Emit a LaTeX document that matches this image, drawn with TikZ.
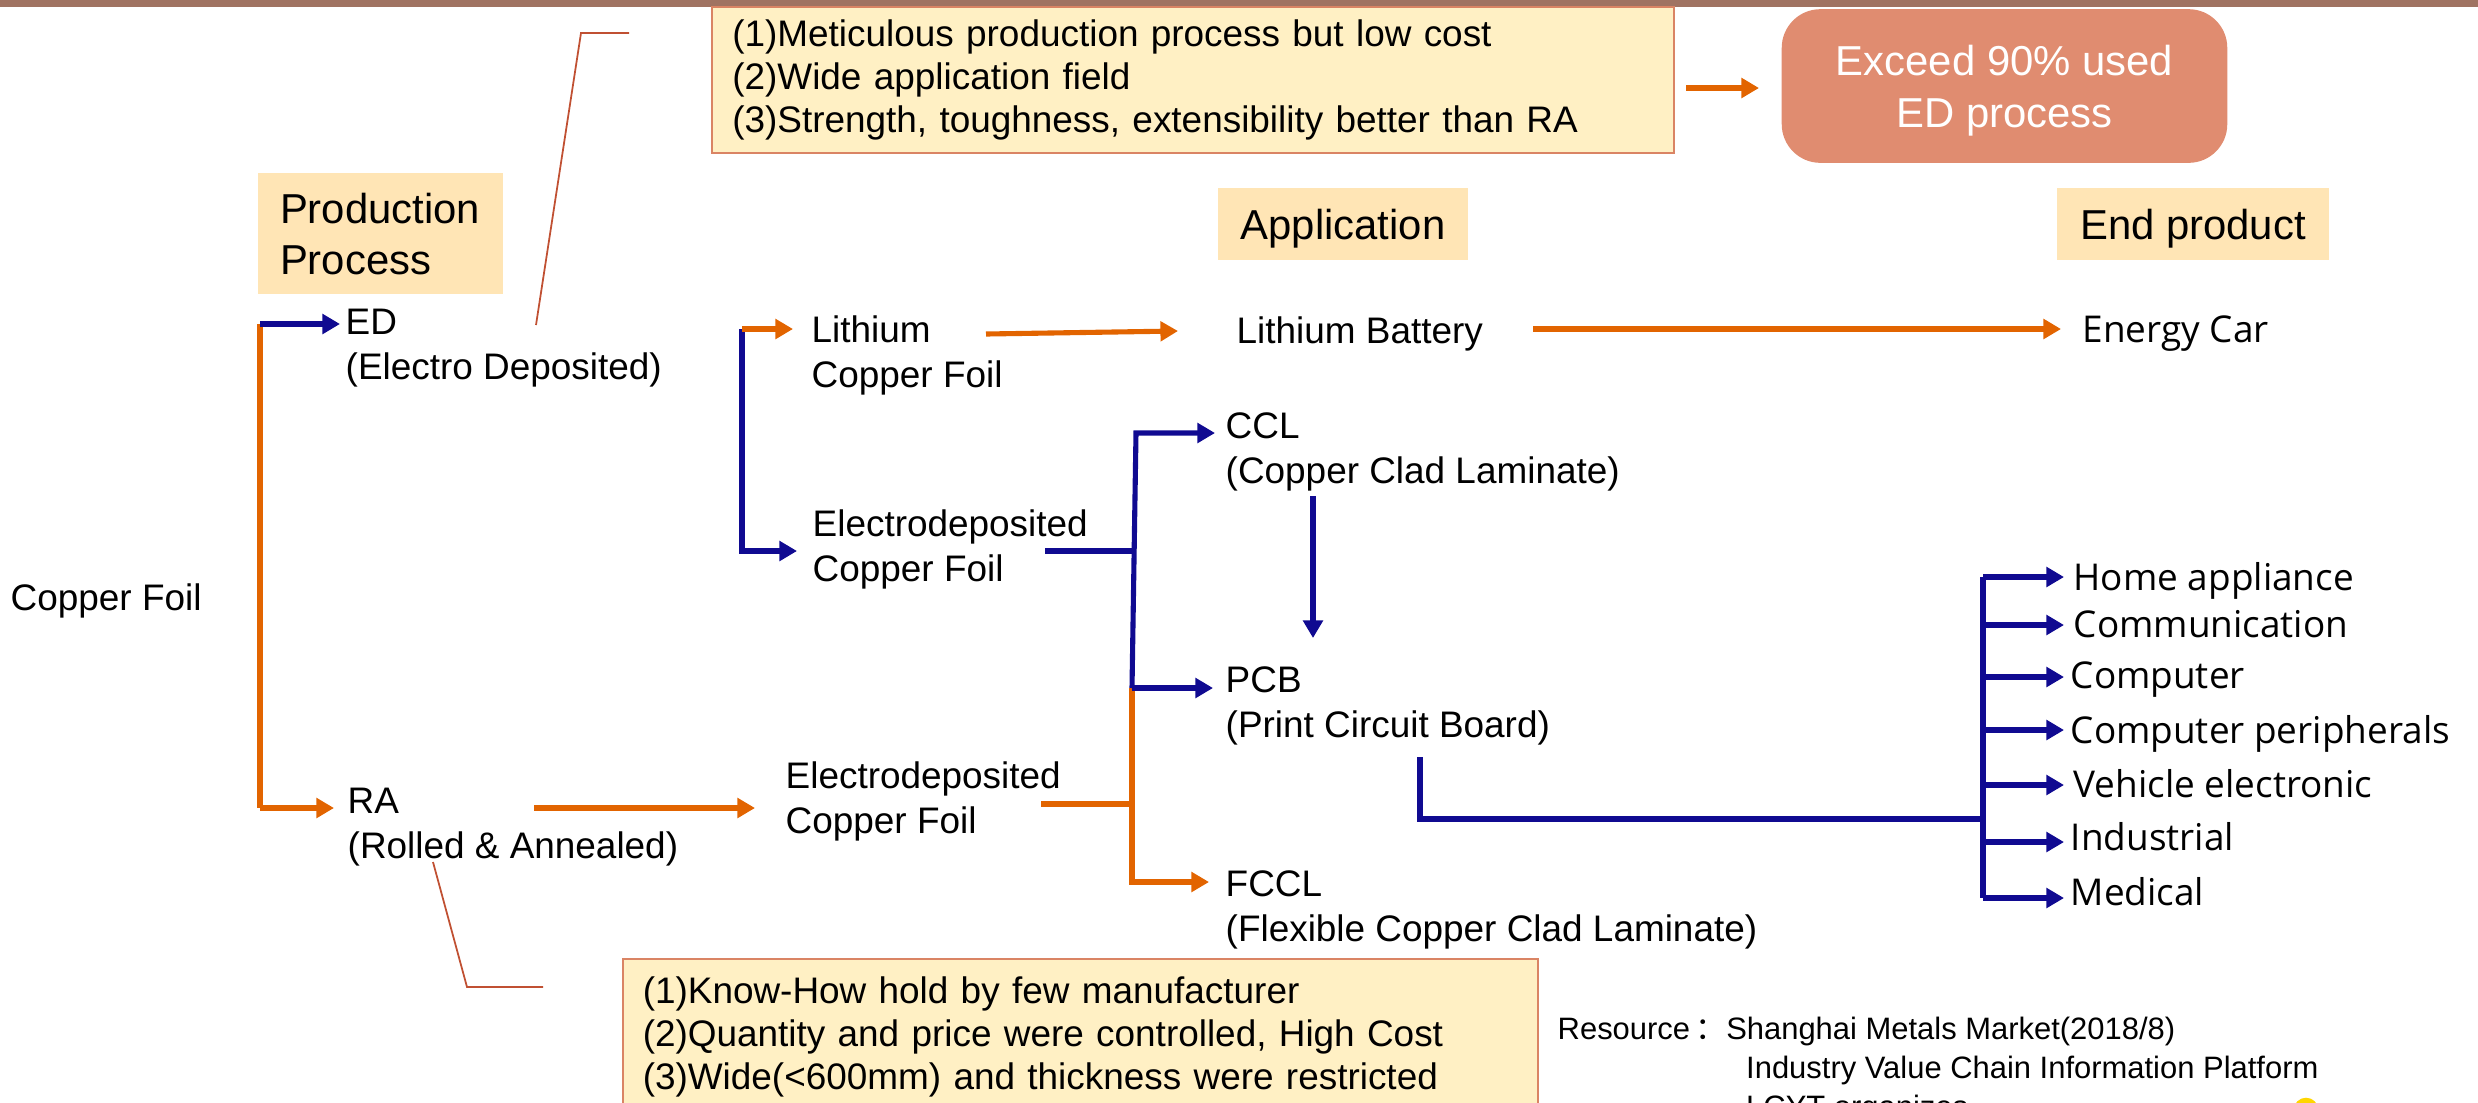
\documentclass[tikz,border=0pt]{standalone}
\usepackage{fontspec}
\setmainfont{Liberation Sans}
\newfontfamily\segoe{Open Sans}
\newfontfamily\cjk{Noto Sans CJK SC}
\usetikzlibrary{arrows.meta}
\definecolor{cuOrange}{RGB}{226,100,0}
\definecolor{cuNavy}{RGB}{16,10,145}
\definecolor{peach}{RGB}{255,229,181}
\definecolor{cream}{RGB}{255,240,196}
\definecolor{salmon}{RGB}{224,140,112}
\definecolor{barBrown}{RGB}{160,115,98}
\definecolor{leadRed}{RGB}{192,80,50}
\definecolor{boxEdge}{RGB}{218,132,100}
\definecolor{dotGold}{RGB}{255,214,0}
\tikzset{
  txt/.style={inner sep=0pt, anchor=base west, align=left, font=\fontsize{10.5}{12.7}\selectfont},
  lst/.style={inner sep=0pt, anchor=base west, font=\segoe\fontsize{10.5}{12.7}\selectfont},
  oline/.style={draw=cuOrange, line width=1.45pt},
  bline/.style={draw=cuNavy, line width=1.45pt},
  tipped/.style={-{Triangle[length=5pt,width=5.5pt]}},
  leader/.style={draw=leadRed, line width=0.5pt},
  headbox/.style={fill=peach, inner sep=0pt, font=\fontsize{11.9}{14.5}\selectfont},
  notebox/.style={fill=cream, draw=boxEdge, line width=0.6pt, inner xsep=5.6pt, inner ysep=0pt, align=left, font=\fontsize{10.5}{12.3}\selectfont},
}
\begin{document}
\begin{tikzpicture}[x=0.01cm, y=-0.01cm]
\useasboundingbox (0,0) rectangle (2478,1102);
\clip (0,0) rectangle (2478,1102);
\fill[barBrown] (0,0) rectangle (2478,7);

% ---- notes and headings ----
\node[notebox, anchor=north west, minimum width=273.5pt, minimum height=41.4pt, text width=262pt] (adv) at (711,6)
  {(1)Meticulous production process but low cost\\(2)Wide application field\\(3)Strength, toughness, extensibility better than RA};
\node[fill=salmon, rounded corners=11pt, minimum width=126.7pt, minimum height=43.7pt, inner sep=0pt,
  text=white, align=center, text depth=0pt, font=\fontsize{11.9}{14.7}\selectfont] (exceed) at (2004.5,86)
  {Exceed 90\% used\\ED process};
\node[notebox, anchor=north west, minimum width=260.2pt, minimum height=44.2pt, text width=249pt] (dis) at (622,958)
  {(1)Know-How hold by few manufacturer\\(2)Quantity and price were controlled, High Cost\\(3)Wide(<600mm) and thickness were restricted};

\node[headbox, anchor=north west, minimum width=69.7pt, minimum height=34.6pt, align=left, inner xsep=6.2pt,
  text width=57pt] (pp) at (257,172) {Production\\Process};
\node[headbox, text depth=0pt, minimum width=70.9pt, minimum height=20.4pt] (app) at (1343,224) {Application};
\node[headbox, text depth=0pt, minimum width=77.1pt, minimum height=20.4pt] (endp) at (2193,224) {End product};

% ---- text nodes (base = last line) ----
\node[txt] (cf) at (10,610) {Copper Foil};
\node[txt] (ed) at (345,379) {ED\\(Electro Deposited)};
\node[txt] (ra) at (347,858) {RA\\(Rolled \& Annealed)};
\node[txt] (lcf) at (811,387) {Lithium\\Copper Foil};
\node[txt] (edf1) at (812,581) {Electrodeposited\\Copper Foil};
\node[txt] (edf2) at (785,833) {Electrodeposited\\Copper Foil};
\node[txt] (lb) at (1236,343) {Lithium Battery};
\node[txt] (ccl) at (1225,483) {CCL\\(Copper Clad Laminate)};
\node[txt] (pcb) at (1225,737) {PCB\\(Print Circuit Board)};
\node[txt] (fccl) at (1225,941) {FCCL\\(Flexible Copper Clad Laminate)};
\node[lst] (ecar) at (2082,342) {Energy Car};
\node[lst] (home) at (2073,590) {Home appliance};
\node[lst] (comm) at (2073,637) {Communication};
\node[lst] (comp) at (2070,688) {Computer};
\node[lst] (peri) at (2070,743) {Computer peripherals};
\node[lst] (vehi) at (2073,797) {Vehicle electronic};
\node[lst] (indu) at (2070,850) {Industrial};
\node[lst] (medi) at (2070,905) {Medical};
\node[inner sep=0pt, anchor=base west, align=left, font=\fontsize{8.8}{11}\selectfont] (res) at (1557,1117)
  {Resource\,{\cjk ：}Shanghai Metals Market(2018/8)\\
   \hspace*{53.6pt}Industry Value Chain Information Platform\\
   \hspace*{53.6pt}LCYT organizes};
\node[circle, fill=dotGold, minimum size=7pt, inner sep=0pt] (dot) at (2306,1110) {};

% ---- coordinates ----
\coordinate (c1) at (260,324);
\coordinate (c2) at (260,808);
\coordinate (c1t) at (340,324);
\coordinate (c2t) at (334,808);
\coordinate (r1) at (534,808);
\coordinate (r1t) at (755,808);
\coordinate (b1) at (742,329);
\coordinate (b2) at (742,551);
\coordinate (b1t) at (793,329);
\coordinate (b2t) at (797,551);
\coordinate (l1) at (986,334);
\coordinate (l1t) at (1178,331);
\coordinate (l2) at (1533,329);
\coordinate (l2t) at (2061,329);
\coordinate (e1) at (1045,551);
\coordinate (e1j) at (1134,551);
\coordinate (k1) at (1136,433);
\coordinate (k2) at (1132,688);
\coordinate (k1t) at (1215,433);
\coordinate (k2t) at (1213,688);
\coordinate (o1) at (1041,804);
\coordinate (o1j) at (1132,804);
\coordinate (k3) at (1132,882);
\coordinate (k3t) at (1209,882);
\coordinate (v1) at (1313,496);
\coordinate (v1t) at (1313,638);
\coordinate (p1) at (1420,757);
\coordinate (p2) at (1420,819);
\coordinate (p3) at (1983,819);
\coordinate (tTop) at (1983,577);
\coordinate (tBot) at (1983,898);
\coordinate (a1) at (1686,88);
\coordinate (a1t) at (1759,88);
\coordinate (q1) at (629,33);
\coordinate (q2) at (581,33);
\coordinate (q3) at (536,325);
\coordinate (s1) at (433,862);
\coordinate (s2) at (467,987);
\coordinate (s3) at (543,987);

% ---- connectors ----
\draw[leader] (q1) -- (q2) -- (q3);
\draw[leader] (s1) -- (s2) -- (s3);
\draw[oline] (c1) -- (c2);
\draw[oline, tipped] (c2) -- (c2t);
\draw[bline, tipped] (c1) -- (c1t);
\draw[oline, tipped] (r1) -- (r1t);
\draw[bline, tipped] (b1) -- (b2) -- (b2t);
\draw[oline, tipped] (b1) -- (b1t);
\draw[oline, tipped] (l1) -- (l1t);
\draw[oline, tipped] (l2) -- (l2t);
\draw[bline] (e1) -- (e1j);
\draw[oline] (o1) -- (o1j);
\draw[oline, tipped] (k2) -- (k3) -- (k3t);
\draw[bline, tipped] (k2) -- (k1) -- (k1t);
\draw[bline, tipped] (k2) -- (k2t);
\draw[bline, tipped] (v1) -- (v1t);
\draw[bline] (p1) -- (p2) -- (p3);
\draw[bline] (tTop) -- (tBot);
\foreach \yy in {577, 625, 677, 730, 785, 842, 898}
  \draw[bline, tipped] (1983,\yy) -- (2064,\yy);
\draw[oline, line width=1.8pt, tipped] (a1) -- (a1t);
\end{tikzpicture}
\end{document}
